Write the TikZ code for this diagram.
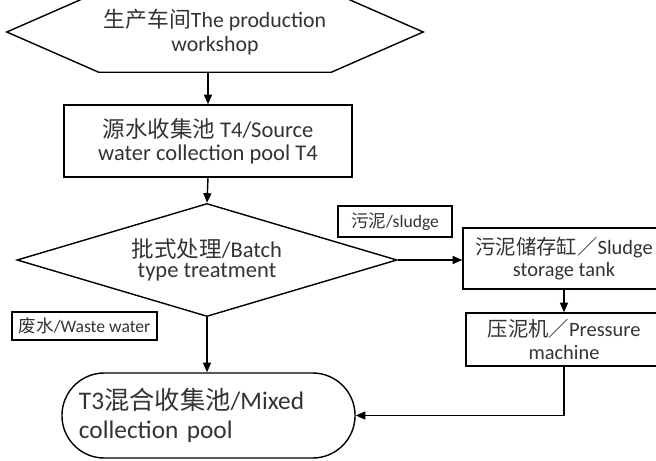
\documentclass[tikz,border=0pt]{standalone}
\usepackage{fontspec}
\setmainfont{Carlito}
\newfontfamily\zhfont{Noto Sans CJK SC}
\newcommand{\zh}[1]{{\zhfont #1}}
\usetikzlibrary{positioning, shapes.geometric, calc, arrows.meta}

\begin{document}
\begin{tikzpicture}[
  x=0.025cm, y=-0.025cm,
  font=\fontsize{14.5}{16}\selectfont,
  text=black!80,
  proc/.style={rectangle, draw, line width=1pt, align=center, inner sep=2pt},
  tag/.style={rectangle, draw, line width=0.9pt, font=\fontsize{12.5}{14}\selectfont, inner sep=1pt},
  flow/.style={-{Triangle[length=2.4mm, width=2mm]}, line width=1pt},
]
\useasboundingbox (0,0) rectangle (656,460);

\node[minimum width=4.5cm, minimum height=2cm, align=center, font=\fontsize{15.5}{16.5}\selectfont] (shop) at (215,32) {\zh{生产车间}The production\\workshop};
\draw[line width=1pt] (shop.north west) -- (shop.north east) -- ($(shop.east)+(2.3cm,0)$)
  -- (shop.south east) -- (shop.south west) -- ($(shop.west)+(-2.3cm,0)$) -- cycle;

\node[proc, minimum width=7.2cm, minimum height=1.8cm, font=\fontsize{16}{16.5}\selectfont] (src) at (208,141) {\zh{源水收集池} T4/Source\\water collection pool T4};
\node[diamond, draw, line width=1pt, aspect=3.36, minimum width=9.5cm, minimum height=2.825cm,
  inner sep=0pt, align=center, font=\fontsize{16}{14.5}\selectfont] (batch) at (207,260) {\zh{批式处理}/Batch\\type treatment};
\node[proc, minimum width=5.05cm, minimum height=1.525cm] (tank) at (564,258.5) {\zh{污泥储存缸／}Sludge\\storage tank};
\node[proc, minimum width=4.9cm, minimum height=1.325cm] (press) at (564,339.5) {\zh{压泥机／}Pressure\\machine};
\node[rectangle, draw, line width=1pt, rounded corners=1.06cm, minimum width=7.325cm, minimum height=2.125cm,
  text width=6.475cm, inner xsep=0.425cm, align=left, font=\fontsize{18}{20.5}\selectfont] (pool) at (208.5,415.5) {T3\zh{混合收集池}/Mixed\\collection pool};

% labels on the branches
\node[tag, minimum width=2.85cm, minimum height=0.775cm] (sludge) at (395,221.5) {\zh{污泥}/sludge};
\node[tag, minimum width=3.625cm, minimum height=0.7cm] (waste) at (84.5,326) {\zh{废水}/Waste water};

\draw[flow] (shop.south -| src.north) -- (src.north);
\draw[flow] (src.south) -- (batch.north);
\draw[flow] (batch.east) -- (batch.east -| tank.west);
\draw[flow] (tank.south) -- (press.north);
\draw[flow] (batch.south) -- (batch.south |- pool.north);
\draw[flow] (press.south) |- (pool.east);
\end{tikzpicture}
\end{document}
